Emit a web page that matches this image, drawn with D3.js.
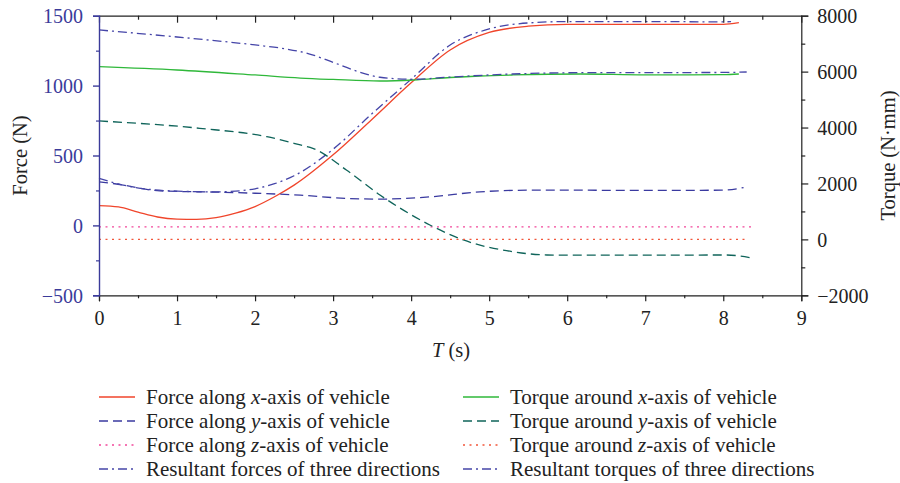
<!DOCTYPE html>
<html>
<head>
<meta charset="utf-8">
<script src="https://cdn.jsdelivr.net/npm/d3@7"></script>
<style>
  body { margin: 0; background: #fff; }
  text { font-family: "Liberation Serif", "Times New Roman", serif; }
</style>
</head>
<body>
<svg id="chart" width="900" height="483"></svg>
<script>
// time values (s) and readings for each series
const forceXTime = [0, 0.25, 0.5, 0.75, 1, 1.25, 1.5, 1.75, 2, 2.25, 2.5, 3, 3.5, 4, 4.5, 5, 5.5, 6, 7, 8, 8.2]
const forceX = [142, 132, 95, 60, 45, 43, 55, 88, 135, 205, 288, 505, 760, 1020, 1255, 1380, 1425, 1438, 1438, 1438, 1450]

const forceYTime = [0, 0.2, 0.78, 1.5, 2, 2.58, 3.17, 3.6, 4.24, 4.88, 5.53, 6, 7, 8, 8.26]
const forceY = [311, 298, 247, 238, 230, 216, 193, 188, 204, 240, 252, 252, 250, 252, 271]

const forceZTime = [0, 8.39]
const forceZ = [-10, -10]

const forceRTime = [0, 0.4, 1, 1.5, 1.75, 2, 2.25, 2.5, 3, 3.5, 4, 4.5, 5, 5.5, 6, 7, 8, 8.1]
const forceR = [336, 278, 245, 240, 245, 262, 298, 355, 545, 800, 1045, 1290, 1405, 1448, 1458, 1458, 1456, 1458]

const torqueXTime = [0, 1, 2, 2.58, 3, 3.6, 4.03, 4.5, 4.88, 5.3, 6.17, 7, 8, 8.2]
const torqueX = [6177, 6058, 5880, 5770, 5720, 5665, 5700, 5790, 5844, 5880, 5915, 5885, 5890, 5915]

const torqueYTime = [0, 1.29, 2.15, 2.58, 2.74, 3.17, 3.6, 4.24, 4.67, 5.3, 5.74, 6, 7, 8.04, 8.39]
const torqueY = [4235, 3973, 3673, 3376, 3258, 2482, 1588, 515, -21, -440, -558, -565, -565, -558, -676]

const torqueZTime = [0, 8.32]
const torqueZ = [0, 0]

const torqueRTime = [0, 1, 2, 2.4, 2.7, 3.0, 3.3, 3.6, 4.03, 4.45, 5.3, 6.17, 7, 8, 8.3]
const torqueR = [7490, 7239, 6953, 6810, 6630, 6330, 6020, 5798, 5726, 5798, 5915, 5962, 5965, 5970, 5987]

const timeTicks = [0, 1, 2, 3, 4, 5, 6, 7, 8, 9]
const forceTicks = [-500, 0, 500, 1000, 1500]
const torqueTicks = [-2000, 0, 2000, 4000, 6000, 8000]

let svg = d3.select('#chart'),
    plotLeft = 99, plotRight = 801.3, plotTop = 15.7, plotBottom = 295.3,
    axisBlue = '#3b3b9a'

let x = d3.scaleLinear().domain([0, 9]).range([plotLeft, plotRight])
let yF = d3.scaleLinear().domain([-500, 1500]).range([plotBottom, plotTop])
let yT = d3.scaleLinear().domain([-2000, 8000]).range([plotBottom, plotTop])

// dash patterns
const DASH = '9,5', DOT = '2,4.5', DASHDOT = '9,4,2,4'

let series = [
  {name: ['Force along ', 'x', '-axis of vehicle'], t: forceXTime, v: forceX, y: yF, color: '#f0452b', dash: null, col: 0, row: 0},
  {name: ['Force along ', 'y', '-axis of vehicle'], t: forceYTime, v: forceY, y: yF, color: '#3a3aa0', dash: DASH, col: 0, row: 1},
  {name: ['Force along ', 'z', '-axis of vehicle'], t: forceZTime, v: forceZ, y: yF, color: '#f2479a', dash: DOT, col: 0, row: 2},
  {name: ['Resultant forces of three directions'], t: forceRTime, v: forceR, y: yF, color: '#4545a8', dash: DASHDOT, col: 0, row: 3},
  {name: ['Torque around ', 'x', '-axis of vehicle'], t: torqueXTime, v: torqueX, y: yT, color: '#2fb83a', dash: null, col: 1, row: 0},
  {name: ['Torque around ', 'y', '-axis of vehicle'], t: torqueYTime, v: torqueY, y: yT, color: '#0f645a', dash: DASH, col: 1, row: 1},
  {name: ['Torque around ', 'z', '-axis of vehicle'], t: torqueZTime, v: torqueZ, y: yT, color: '#f2563a', dash: DOT, col: 1, row: 2},
  {name: ['Resultant torques of three directions'], t: torqueRTime, v: torqueR, y: yT, color: '#4545a8', dash: DASHDOT, col: 1, row: 3}
]

// draw the curves
series.forEach(s => {
  let pts = s.t.map((t, i) => [t, s.v[i]])
  let line = d3.line()
    .x(d => x(d[0]))
    .y(d => s.y(d[1]))
    .curve(d3.curveMonotoneX)
  svg.append('path')
    .datum(pts)
    .attr('d', line)
    .attr('fill', 'none')
    .attr('stroke', s.color)
    .attr('stroke-width', 1.3)
    .attr('stroke-dasharray', s.dash)
})

// axes
let minorTime = d3.range(0.5, 9, 1)
let fmt = d => d < 0 ? '\u2212' + Math.abs(d) : d

let bottomAxis = svg.append('g').attr('transform', `translate(0,${plotBottom})`)
  .call(d3.axisBottom(x).tickValues(timeTicks).tickSize(6).tickFormat(d3.format('d')))
bottomAxis.selectAll('text').attr('y', 30).attr('dy', 0)
svg.append('g').attr('transform', `translate(0,${plotBottom})`)
  .call(d3.axisBottom(x).tickValues(minorTime).tickSize(3).tickFormat(''))
  .select('.domain').remove()

svg.append('g').attr('transform', `translate(0,${plotTop})`)
  .call(d3.axisTop(x).tickValues(timeTicks).tickSizeInner(-7).tickSizeOuter(0).tickFormat(''))
svg.append('g').attr('transform', `translate(0,${plotTop})`)
  .call(d3.axisTop(x).tickValues(minorTime).tickSizeInner(-4).tickFormat(''))
  .select('.domain').remove()

let rightAxis = svg.append('g').attr('transform', `translate(${plotRight},0)`)
  .call(d3.axisRight(yT).tickValues(torqueTicks).tickSize(7).tickFormat(fmt))
rightAxis.selectAll('text').attr('x', 16).attr('dy', '0.35em')
svg.append('g').attr('transform', `translate(${plotRight},0)`)
  .call(d3.axisRight(yT).tickValues(d3.range(-1000, 8000, 2000)).tickSize(4).tickFormat(''))
  .select('.domain').remove()

svg.selectAll('.domain, .tick line').attr('stroke', '#222').attr('stroke-width', 1.2)

let leftAxis = svg.append('g').attr('transform', `translate(${plotLeft},0)`)
  .call(d3.axisLeft(yF).tickValues(forceTicks).tickSize(6).tickFormat(fmt))
leftAxis.selectAll('text').attr('x', -16).attr('dy', '0.35em')
let leftMinor = svg.append('g').attr('transform', `translate(${plotLeft},0)`)
  .call(d3.axisLeft(yF).tickValues(d3.range(-250, 1500, 500)).tickSize(3).tickFormat(''))
leftMinor.select('.domain').remove()

svg.selectAll('.tick text')
  .attr('font-family', '"Liberation Serif", serif')
  .attr('font-size', 20)
  .attr('fill', '#222')
leftAxis.selectAll('.domain, .tick line').attr('stroke', axisBlue).attr('stroke-width', 1.4)
leftMinor.selectAll('.tick line').attr('stroke', axisBlue).attr('stroke-width', 1.2)
leftAxis.selectAll('text').attr('fill', axisBlue)

// axis titles
svg.append('text')
  .attr('transform', `translate(27,${(plotTop + plotBottom) / 2}) rotate(-90)`)
  .attr('text-anchor', 'middle')
  .attr('font-size', 20.5)
  .attr('fill', '#222')
  .text('Force (N)')

svg.append('text')
  .attr('transform', `translate(895,${(plotTop + plotBottom) / 2}) rotate(-90)`)
  .attr('text-anchor', 'middle')
  .attr('font-size', 20.5)
  .attr('fill', '#222')
  .text('Torque (N\u00b7mm)')

let tLabel = svg.append('text')
  .attr('x', 451)
  .attr('y', 357)
  .attr('text-anchor', 'middle')
  .attr('font-size', 20.5)
  .attr('fill', '#222')
tLabel.append('tspan').attr('font-style', 'italic').text('T')
tLabel.append('tspan').text(' (s)')

// legend
let legendCols = [{x1: 99, x2: 135, tx: 146}, {x1: 463, x2: 499, tx: 510}]
series.forEach(s => {
  let c = legendCols[s.col],
      ly = 397 + s.row * 24
  svg.append('line')
    .attr('x1', c.x1).attr('x2', c.x2)
    .attr('y1', ly).attr('y2', ly)
    .attr('stroke', s.color)
    .attr('stroke-width', 1.3)
    .attr('stroke-dasharray', s.dash)
  let txt = svg.append('text')
    .attr('x', c.tx)
    .attr('y', ly + 7)
    .attr('font-size', 21)
    .attr('fill', '#222')
  s.name.forEach((part, i) => {
    txt.append('tspan')
      .attr('font-style', i === 1 ? 'italic' : null)
      .text(part)
  })
})
</script>
</body>
</html>
